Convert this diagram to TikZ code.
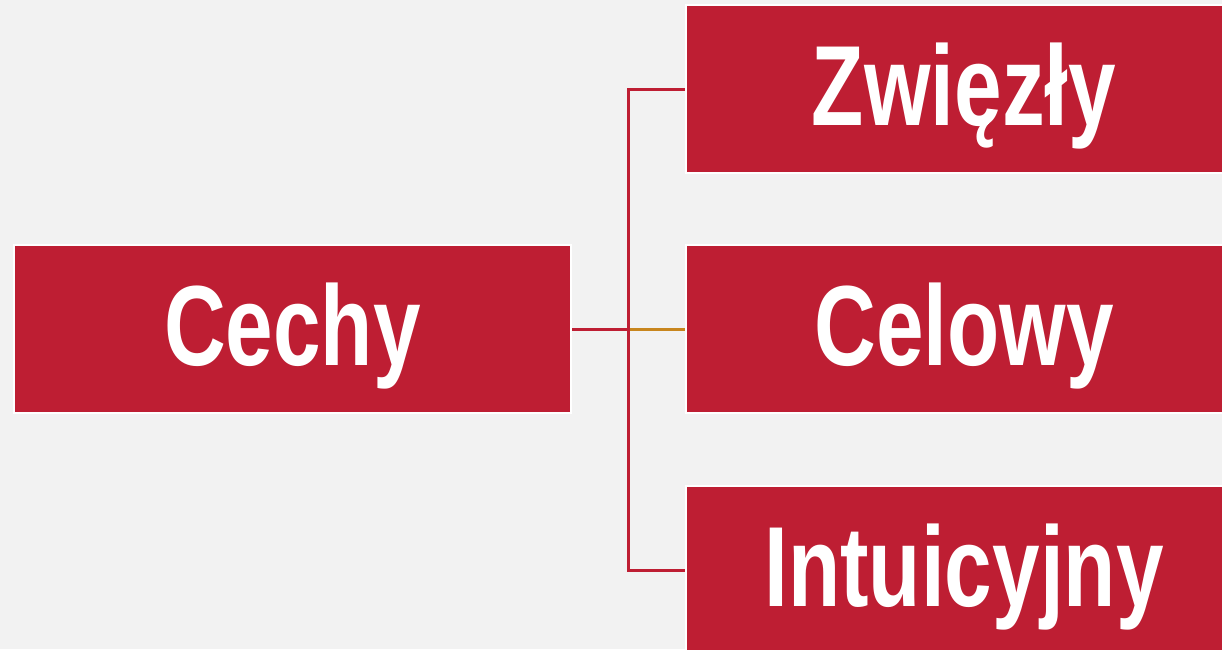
\documentclass[tikz,border=0pt]{standalone}
\usepackage{fontspec}
\newfontfamily\cechyfont{Liberation Sans}[FakeStretch=0.75]
\definecolor{tlo}{HTML}{F2F2F2}
\definecolor{czerwony}{HTML}{BE1E33}
\definecolor{pomarancz}{HTML}{C8861E}
\tikzset{
    pole/.style={fill=czerwony, draw=white, line width=2pt,
        minimum width=557pt, minimum height=168pt, inner sep=0pt,
        text=white, font=\cechyfont\bfseries\fontsize{114}{120}\selectfont,
        text height=82pt, text depth=9pt},
    linia/.style={draw=czerwony, line width=3pt},
}
\begin{document}
\begin{tikzpicture}[x=1pt, y=-1pt]

    % Tlo
    \fill[tlo] (0,0) rectangle (1222,649);
    \clip (0,0) rectangle (1222,649);

    % Nodos
    \node[pole] (cechy) at (292.5,329) {Cechy};
    \node[pole] (zwiezly) at (964,89) {Zwięzły};
    \node[pole] (celowy) at (964,329) {Celowy};
    \node[pole] (intuicyjny) at (964,570) {Intuicyjny};
    \coordinate (rozgalezienie) at (628,329);

    % Linie
    \path[draw=pomarancz, line width=3pt] (rozgalezienie) -- (celowy.west);
    \path[linia] (cechy.east) -- (rozgalezienie);
    \path[linia] (rozgalezienie) |- (zwiezly.west);
    \path[linia] (rozgalezienie) |- (intuicyjny.west);

\end{tikzpicture}
\end{document}
